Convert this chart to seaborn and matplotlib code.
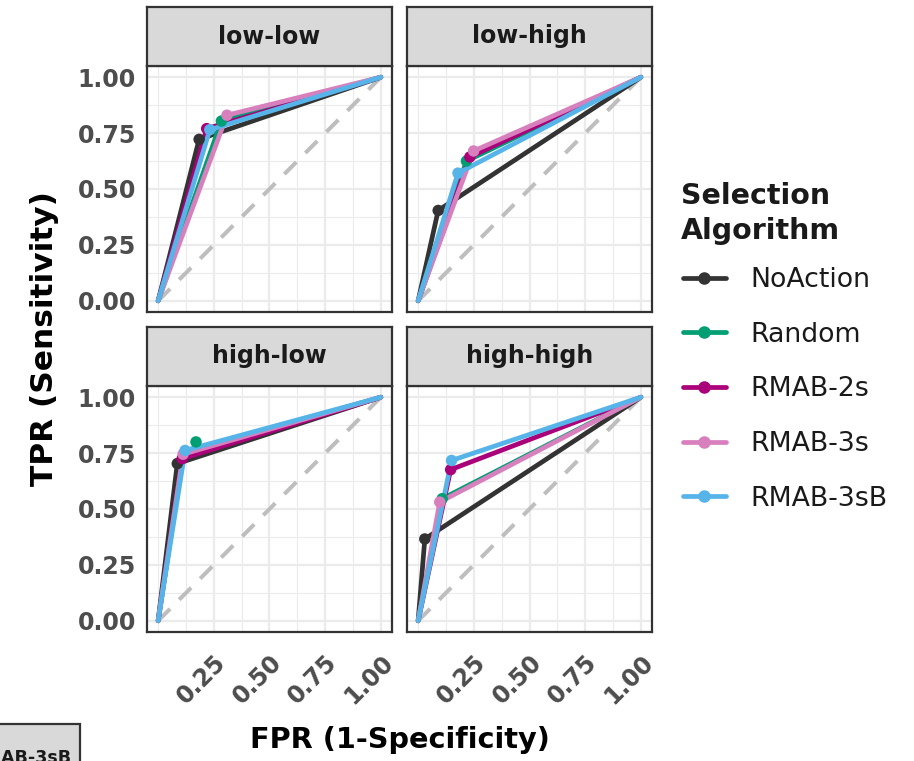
import numpy as np
import pandas as pd
import matplotlib
matplotlib.use("Agg")
import matplotlib.pyplot as plt
import seaborn as sns
from matplotlib.lines import Line2D
from matplotlib.patches import Rectangle

# ---------------- data ----------------
scenarios = ["low-low", "low-high", "high-low", "high-high"]
algorithms = ["NoAction", "Random", "RMAB-2s", "RMAB-3s", "RMAB-3sB"]
colors = ["#333333", "#009E73", "#AA0079", "#D880BE", "#56B4E9"]

# operating points (marked with dots)
fpr_low_low = [0.184, 0.284, 0.218, 0.309, 0.232]
tpr_low_low = [0.722, 0.804, 0.770, 0.830, 0.765]
fpr_low_high = [0.090, 0.217, 0.232, 0.249, 0.179]
tpr_low_high = [0.404, 0.625, 0.643, 0.670, 0.571]
fpr_high_low = [0.086, 0.170, 0.108, 0.112, 0.121]
tpr_high_low = [0.703, 0.800, 0.725, 0.745, 0.762]
fpr_high_high = [0.030, 0.108, 0.146, 0.097, 0.150]
tpr_high_high = [0.366, 0.546, 0.676, 0.531, 0.717]

# ROC curve vertices (same as points except where the curve differs)
fpr_high_low_line = [0.086, 0.112, 0.108, 0.112, 0.121]
tpr_high_low_line = [0.703, 0.745, 0.725, 0.745, 0.762]

roc_start = [0.0, 0.0]
roc_end = [1.0, 1.0]

x_breaks = [0.25, 0.50, 0.75, 1.00]
y_breaks = [0.00, 0.25, 0.50, 0.75, 1.00]

pt_fpr = {"low-low": fpr_low_low, "low-high": fpr_low_high,
          "high-low": fpr_high_low, "high-high": fpr_high_high}
pt_tpr = {"low-low": tpr_low_low, "low-high": tpr_low_high,
          "high-low": tpr_high_low, "high-high": tpr_high_high}
line_fpr = dict(pt_fpr, **{"high-low": fpr_high_low_line})
line_tpr = dict(pt_tpr, **{"high-low": tpr_high_low_line})

# ---------------- figure ----------------
sns.set_theme(style="white")
plt.rcParams['font.family'] = ['DejaVu Sans']

W, H = 914, 761
fig = plt.figure(figsize=(W / 100, H / 100), dpi=100)
fig.patch.set_facecolor("white")


def rect(l, t, r, b):
    return [l / W, 1 - b / H, (r - l) / W, (b - t) / H]


pal = dict(zip(algorithms, colors))
panel_pos = {"low-low": (147, 66, 7), "low-high": (407, 66, 7),
             "high-low": (147, 386, 327), "high-high": (407, 386, 327)}
pw, ph = 245, 246
edge = "#333333"
tick_col = "#4D4D4D"
LW = 3.4

for sc in scenarios:
    l, t, st = panel_pos[sc]
    ax = fig.add_axes(rect(l, t, l + pw, t + ph))
    ax.set_facecolor("white")
    ax.set_xlim(-0.05, 1.05)
    ax.set_ylim(-0.05, 1.05)

    rows = []
    for a, f, tp in zip(algorithms, line_fpr[sc], line_tpr[sc]):
        rows.append((a, roc_start[0], roc_start[1]))
        rows.append((a, f, tp))
        rows.append((a, roc_end[0], roc_end[1]))
    ldf = pd.DataFrame(rows, columns=["alg", "fpr", "tpr"])
    pdf = pd.DataFrame({"alg": algorithms, "fpr": pt_fpr[sc], "tpr": pt_tpr[sc]})

    ax.plot([roc_start[0], roc_end[0]], [roc_start[1], roc_end[1]],
            ls=(0, (4.2, 3.2)), color="#BEBEBE", lw=2.9, zorder=1)
    sns.lineplot(data=ldf, x="fpr", y="tpr", hue="alg", hue_order=algorithms,
                 palette=pal, sort=False, estimator=None, linewidth=LW,
                 legend=False, ax=ax, zorder=2)
    sns.scatterplot(data=pdf, x="fpr", y="tpr", hue="alg", hue_order=algorithms,
                    palette=pal, s=68, linewidth=0, legend=False, ax=ax, zorder=3)

    ax.set_xlabel("")
    ax.set_ylabel("")
    ax.set_xticks(x_breaks)
    ax.set_xticks([0.0, 0.125, 0.375, 0.625, 0.875], minor=True)
    ax.set_yticks(y_breaks)
    ax.set_yticks([0.125, 0.375, 0.625, 0.875], minor=True)
    ax.grid(True, which="major", color="#EBEBEB", lw=1.6)
    ax.grid(True, which="minor", color="#EBEBEB", lw=0.8)
    ax.set_axisbelow(True)
    for sp in ax.spines.values():
        sp.set_color(edge)
        sp.set_linewidth(1.6)
    ax.tick_params(which="minor", length=0)
    ax.tick_params(which="major", length=7, width=1.5, color=edge,
                   labelcolor=tick_col, labelsize=17)

    if sc.startswith("high"):
        ax.set_xticklabels([f"{v:.2f}" for v in x_breaks], fontweight="bold",
                           rotation=45, ha="right", va="top", rotation_mode="anchor")
        ax.tick_params(axis="x", pad=6)
    else:
        ax.tick_params(axis="x", length=0, labelbottom=False)
    if sc in ("low-low", "high-low"):
        ax.set_yticklabels([f"{v:.2f}" for v in y_breaks], fontweight="bold")
        ax.tick_params(axis="y", pad=1)
    else:
        ax.tick_params(axis="y", length=0, labelleft=False)

    # facet strip
    sax = fig.add_axes(rect(l, st, l + pw, t))
    sax.set_facecolor("#D9D9D9")
    sax.set_xticks([])
    sax.set_yticks([])
    for sp in sax.spines.values():
        sp.set_color(edge)
        sp.set_linewidth(1.6)
    sax.text(0.5, 0.5, sc, ha="center", va="center", fontsize=17,
             fontweight="bold", color="#1A1A1A", transform=sax.transAxes)

# axis titles
fig.text(45 / W, 1 - 339 / H, "TPR (Sensitivity)", rotation=90, ha="center",
         va="center", fontsize=22.5, fontweight="bold", color="black")
fig.text(400 / W, 1 - 740 / H, "FPR (1-Specificity)", ha="center",
         va="center", fontsize=20.7, fontweight="bold", color="black")

# legend title
fig.text(681 / W, 1 - 182 / H, "Selection\nAlgorithm", ha="left", va="top",
         fontsize=20.5, fontweight="bold", color="#1A1A1A", linespacing=1.32)

# legend entries
handles = [Line2D([], [], color=c, lw=LW, marker="o", ms=8) for c in colors]
leg = fig.legend(handles, algorithms, loc="upper left",
                 bbox_to_anchor=(683 / W, 1 - 267 / H), frameon=False,
                 fontsize=19.3, handlelength=1.6, handletextpad=0.9,
                 labelspacing=1.07, borderpad=0, borderaxespad=0)
for txt in leg.get_texts():
    txt.set_color("#1A1A1A")

# partial strip fragment at bottom-left (as in the reference)
fig.add_artist(Rectangle((-10 / W, 1 - 790 / H), 90 / W, 66 / H,
                         transform=fig.transFigure, facecolor="#D9D9D9",
                         edgecolor=edge, lw=1.6, clip_on=False))
fig.text(71 / W, 1 - 763 / H, "RMAB-3sB", ha="right", va="baseline",
         fontsize=12.6, fontweight="bold", color="#1A1A1A")

fig.savefig("out.png", dpi=100)
